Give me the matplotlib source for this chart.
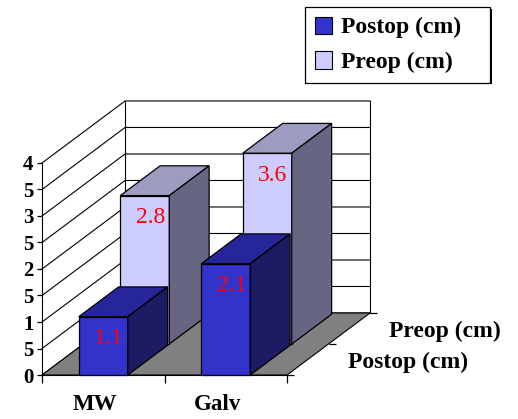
import matplotlib
matplotlib.use("Agg")
import matplotlib.pyplot as plt
from matplotlib.patches import Polygon, Patch, Rectangle
from matplotlib.transforms import ScaledTranslation

# ---- data ----
categories = ["MW", "Galv"]
series_names = ["Postop (cm)", "Preop (cm)"]
postop = [1.1, 2.1]
preop = [2.8, 3.6]
ytick_values = [0, 0.5, 1, 1.5, 2, 2.5, 3, 3.5, 4]
ytick_labels = ["0", "5", "1", "5", "2", "5", "3", "5", "4"]

# ---- style ----
postop_colors = dict(front="#3333CC", top="#26269A", side="#1C1C64")
preop_colors = dict(front="#CCCCFF", top="#9C9CC0", side="#666682")
plt.rcParams["font.family"] = ["Liberation Serif", "DejaVu Serif"]

fig = plt.figure(figsize=(5.18, 4.19), dpi=100)
ax = fig.add_axes([0, 0, 1, 1])
ax.set_xlim(-0.343, 3.886)
ax.set_ylim(-0.83, 7.075)

# oblique offset for one full unit of depth
DX, DY = 0.678, 1.17


def P(x, y, z):
    return (x + z * DX, y + z * DY)


# walls: side-wall diagonals and back-wall gridlines
for v in ytick_values:
    ax.plot([0, DX, 2 + DX], [v + 0, v + DY, v + DY], color="black", lw=0.8, zorder=1)
ax.plot([DX, DX], [DY, 4 + DY], color="black", lw=0.8, zorder=1)
ax.plot([2 + DX, 2 + DX], [DY, 4 + DY], color="black", lw=0.8, zorder=1)

# floor
ax.add_patch(Polygon([P(0, 0, 0), P(2, 0, 0), P(2, 0, 1), P(0, 0, 1)],
                     closed=True, fc="#808080", ec="black", lw=0.8, zorder=2))

BAR_W = 0.4
ROW_D = 0.48


def draw_bar(xc, h, z0, col):
    x0, x1, z1 = xc - BAR_W / 2, xc + BAR_W / 2, z0 + ROW_D
    faces = [
        ([P(x0, 0, z0), P(x1, 0, z0), P(x1, h, z0), P(x0, h, z0)], col["front"]),
        ([P(x0, h, z0), P(x1, h, z0), P(x1, h, z1), P(x0, h, z1)], col["top"]),
        ([P(x1, 0, z0), P(x1, 0, z1), P(x1, h, z1), P(x1, h, z0)], col["side"]),
    ]
    for pts, c in faces:
        ax.add_patch(Polygon(pts, closed=True, fc=c, ec="black", lw=0.9, zorder=3))
    ax.annotate(f"{h}", xy=P(xc, h, z0), xytext=(4, -16), textcoords="offset points",
                ha="center", va="center", color="#FF0000", fontsize=17, zorder=4)


# back row (Preop) first, then front row (Postop)
for i, v in enumerate(preop):
    draw_bar(i + 0.5, v, 0.5, preop_colors)
for i, v in enumerate(postop):
    draw_bar(i + 0.5, v, 0.0, postop_colors)

# value axis
for s in ("top", "right"):
    ax.spines[s].set_visible(False)
ax.spines["left"].set_position(("data", 0))
ax.spines["left"].set_bounds(0, 4)
ax.spines["bottom"].set_position(("data", 0))
ax.spines["bottom"].set_bounds(0, 2)
ax.spines["bottom"].set_zorder(5)
ax.set_yticks(ytick_values, ytick_labels)
ax.tick_params(axis="y", direction="out", length=3.6, width=0.9, pad=2.5, labelsize=15)
for lbl in ax.get_yticklabels():
    lbl.set_fontweight("bold")

# category axis
ax.set_xticks([0, 1, 2], ["", "", ""])
ax.set_xticks([0.5, 1.5], categories, minor=True)
ax.tick_params(axis="x", which="major", direction="out", length=5.8, width=0.9)
ax.tick_params(axis="x", which="minor", length=0, pad=13.5, labelsize=16.5)
shift = ScaledTranslation(-8 / 100, 0, fig.dpi_scale_trans)
for lbl in ax.get_xticklabels(minor=True):
    lbl.set_fontweight("bold")
    lbl.set_transform(lbl.get_transform() + shift)

# series (depth) axis
zt = [0, 0.5, 1]
ax.plot([P(2, 0, z)[0] for z in zt], [P(2, 0, z)[1] for z in zt],
        ls="none", marker=1, markersize=5, color="black", mew=0.9, zorder=5)
for name, zc in zip(series_names, [0.24, 0.74]):
    ax.annotate(name, xy=P(2, 0, zc), xytext=(29.5, -2), textcoords="offset points",
                ha="left", va="center", fontsize=17, fontweight="bold")

# legend with a thin dark drop shadow
handles = [Patch(fc=postop_colors["front"], ec="black", lw=0.8),
           Patch(fc=preop_colors["front"], ec="black", lw=0.8)]
leg = fig.legend(handles, series_names, loc="upper left",
                 bbox_to_anchor=(0.589, 0.802, 0.357, 0.181), mode="expand",
                 borderaxespad=0, fancybox=False, edgecolor="black", framealpha=1,
                 prop=dict(size=17, weight="bold"), handlelength=0.75, handleheight=0.75,
                 handletextpad=0.35, labelspacing=0.55, borderpad=0.4)
leg.get_frame().set_linewidth(0.9)
leg.set_zorder(10)

fig.canvas.draw()
bb = leg.get_window_extent().transformed(fig.transFigure.inverted())
off = 1.5 / 518, 1.5 / 419
fig.patches.append(Rectangle((bb.x0 + off[0], bb.y0 - off[1]), bb.width, bb.height,
                             transform=fig.transFigure, fc="black", ec="none", zorder=9))

fig.savefig("out.png", dpi=100)
